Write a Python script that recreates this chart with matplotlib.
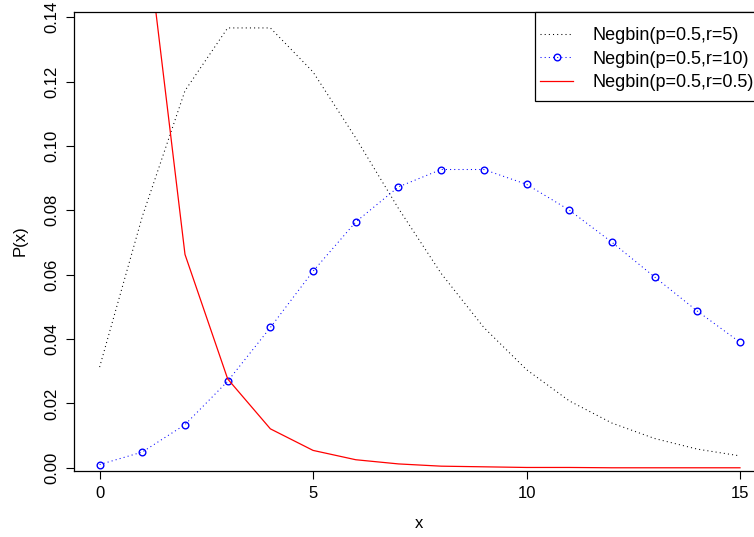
import matplotlib
matplotlib.use("Agg")
import matplotlib.pyplot as plt

plt.rcParams['font.family'] = ['Liberation Sans', 'DejaVu Sans']
plt.rcParams['font.size'] = 12

# P(x), x = 0..15
x = list(range(16))
p_r5 = [0.0313, 0.0781, 0.1172, 0.1367, 0.1367, 0.1230, 0.1025, 0.0806,
        0.0604, 0.0436, 0.0305, 0.0208, 0.0139, 0.0091, 0.0058, 0.0037]
p_r10 = [0.0010, 0.0049, 0.0134, 0.0269, 0.0436, 0.0611, 0.0764, 0.0873,
         0.0927, 0.0927, 0.0881, 0.0801, 0.0701, 0.0593, 0.0487, 0.0390]
p_r05 = [0.7071, 0.1768, 0.0663, 0.0276, 0.0121, 0.0054, 0.0025, 0.0012,
         0.0005, 0.0003, 0.0001, 0.0001, 0.0000, 0.0000, 0.0000, 0.0000]
labels = ['Negbin(p=0.5,r=5)', 'Negbin(p=0.5,r=10)', 'Negbin(p=0.5,r=0.5)']

W, H = 754, 537
fig = plt.figure(figsize=(W / 100, H / 100), dpi=100)
# plot region runs past the right edge, like the original crop
ax = fig.add_axes([74 / W, 1 - 471 / H, (765.6 - 74) / W, (471 - 12) / H])

ax.plot(x, p_r5, color='black', lw=0.75, linestyle=(0, (1, 3)), label=labels[0])
ax.plot(x, p_r10, color='blue', lw=0.75, linestyle=(0, (1, 3)), marker='o',
        markersize=4.8, markerfacecolor='none', markeredgecolor='blue',
        markeredgewidth=1.0, label=labels[1])
ax.plot(x, p_r05, color='red', lw=0.9, label=labels[2])

ax.set_xlim(-0.6, 15.6)
ax.set_ylim(-0.001, 0.14165)
ax.set_xticks([0, 5, 10, 15])
ax.set_yticks([0, 0.02, 0.04, 0.06, 0.08, 0.10, 0.12, 0.14])
ax.set_yticklabels(['0.00', '0.02', '0.04', '0.06', '0.08', '0.10', '0.12', '0.14'],
                   rotation=90, va='center')
ax.tick_params(length=6, width=0.8, pad=4.5)
for s in ax.spines.values():
    s.set_linewidth(0.9)

fig.text(419 / W, 1 - 523 / H, 'x', ha='center', va='center')
fig.text(20 / W, 1 - 241 / H, 'P(x)', ha='center', va='center', rotation=90)

# legend box like R's, top-right
box = plt.Rectangle((535 / W, 1 - 101 / H), 0.4, (101 - 12) / H,
                    transform=fig.transFigure, facecolor='white',
                    edgecolor='black', lw=0.9, zorder=5, clip_on=False)
ax.add_patch(box)
leg = ax.legend(loc='upper left', bbox_to_anchor=(531 / W, 1 - 18 / H),
                bbox_transform=fig.transFigure, frameon=False, borderpad=0,
                handlelength=1.83, handletextpad=1.09, labelspacing=0.36,
                numpoints=1, fontsize=13)
leg.set_zorder(6)

fig.savefig('out.png', dpi=100)
